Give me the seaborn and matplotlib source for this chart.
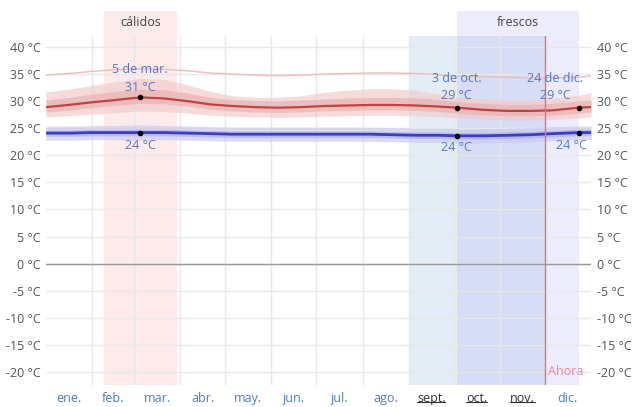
import pandas as pd
import matplotlib
matplotlib.use("Agg")
import matplotlib.pyplot as plt
import seaborn as sns

# day of year (0 = 1 Jan)
days = [0, 15, 31, 46, 63, 79, 95, 110, 125, 140, 156, 171, 186, 201, 217, 232, 248, 263, 275, 293, 309, 324, 339, 357, 365]

high = [28.9, 29.3, 29.8, 30.2, 30.7, 30.5, 30.0, 29.4, 29.1, 28.9, 28.8, 28.9, 29.1, 29.2, 29.3, 29.3, 29.2, 29.0, 28.8, 28.4, 28.2, 28.2, 28.3, 28.8, 28.9]
high_p90 = [31.7, 32.2, 32.9, 33.6, 34.2, 34.0, 33.0, 31.8, 31.0, 30.7, 30.7, 31.0, 31.6, 32.0, 32.3, 32.3, 32.0, 31.3, 30.7, 30.4, 30.2, 30.2, 30.5, 31.1, 31.6]
high_p75 = [30.2, 30.7, 31.3, 31.8, 32.2, 32.1, 31.5, 30.7, 30.3, 30.1, 30.0, 30.2, 30.4, 30.6, 30.7, 30.7, 30.6, 30.3, 29.9, 29.6, 29.4, 29.4, 29.6, 30.0, 30.2]
high_p25 = [28.0, 28.3, 28.8, 29.2, 29.6, 29.5, 29.1, 28.5, 28.2, 28.0, 27.9, 28.0, 28.2, 28.3, 28.4, 28.4, 28.3, 28.1, 27.8, 27.5, 27.3, 27.3, 27.4, 27.8, 28.0]
high_p10 = [27.1, 27.3, 27.6, 27.9, 28.2, 28.1, 27.8, 27.4, 27.2, 27.1, 27.0, 27.1, 27.2, 27.3, 27.4, 27.4, 27.3, 27.1, 26.9, 26.7, 26.5, 26.5, 26.6, 26.9, 27.1]
high_top = [34.8, 35.1, 35.5, 35.8, 36.0, 35.9, 35.6, 35.2, 35.0, 34.8, 34.7, 34.8, 35.0, 35.1, 35.2, 35.2, 35.1, 34.9, 34.6, 34.5, 34.4, 34.3, 34.3, 34.4, 34.7]

low = [24.1, 24.1, 24.2, 24.2, 24.2, 24.2, 24.1, 24.0, 23.9, 23.9, 23.9, 23.9, 23.9, 23.9, 23.9, 23.8, 23.7, 23.7, 23.6, 23.6, 23.7, 23.8, 24.0, 24.2, 24.2]
low_p90 = [25.4, 25.4, 25.5, 25.5, 25.6, 25.5, 25.4, 25.3, 25.2, 25.2, 25.2, 25.2, 25.2, 25.2, 25.2, 25.1, 25.0, 25.0, 24.9, 24.9, 25.0, 25.1, 25.3, 25.4, 25.4]
low_p75 = [24.7, 24.7, 24.8, 24.8, 24.8, 24.8, 24.7, 24.6, 24.5, 24.5, 24.5, 24.5, 24.5, 24.5, 24.5, 24.4, 24.3, 24.3, 24.2, 24.2, 24.3, 24.4, 24.6, 24.8, 24.8]
low_p25 = [23.5, 23.5, 23.6, 23.6, 23.6, 23.6, 23.5, 23.4, 23.3, 23.3, 23.3, 23.3, 23.3, 23.3, 23.3, 23.2, 23.1, 23.1, 23.0, 23.0, 23.1, 23.2, 23.4, 23.6, 23.6]
low_p10 = [22.8, 22.8, 22.9, 22.9, 22.8, 22.9, 22.8, 22.7, 22.6, 22.6, 22.6, 22.6, 22.6, 22.6, 22.6, 22.5, 22.4, 22.4, 22.3, 22.3, 22.4, 22.5, 22.7, 22.9, 22.9]

month_starts = [0, 31, 59, 90, 120, 151, 181, 212, 243, 273, 304, 334, 365]
month_labels = ["ene.", "feb.", "mar.", "abr.", "may.", "jun.", "jul.", "ago.", "sept.", "oct.", "nov.", "dic."]
underlined = ["sept.", "oct.", "nov."]
y_ticks = [40, 35, 30, 25, 20, 15, 10, 5, 0, -5, -10, -15, -20]

# seasons / highlights (day of year)
warm_season = (39, 88)
cool_season = (275, 357)
shade_period = (243, 334.5)
now_day = 334.5

# highlighted points: (day index in arrays, date label)
marks = [(4, "5 de mar."), (18, "3 de oct."), (23, "24 de dic.")]

df = pd.DataFrame({"day": days, "high": high, "low": low, "top": high_top})

sns.set_style("white")
plt.rcParams["font.family"] = ["Open Sans", "DejaVu Sans"]

fig = plt.figure(figsize=(6.34, 4.07), dpi=100)
ax = fig.add_axes([46 / 634, 1 - 385 / 407, 545 / 634, 349 / 407])

label_blue = "#4f78cc"
grey = "#555555"

# seasons bands
ext = (385 - 11) / 349
ax.axvspan(*warm_season, ymin=0, ymax=ext, color="#fdeaea", clip_on=False, zorder=0.1, lw=0)
ax.axvspan(*cool_season, ymin=0, ymax=ext, color="#ececfd", clip_on=False, zorder=0.1, lw=0)
ax.axvspan(*shade_period, color="#96b4dc", alpha=0.25, zorder=0.2, lw=0)
ax.text(sum(warm_season) / 2, 1 + (36 - 23) / 349, "cálidos", transform=ax.get_xaxis_transform(),
        ha="center", va="center", fontsize=9, color="#444444")
ax.text(sum(cool_season) / 2, 1 + (36 - 23) / 349, "frescos", transform=ax.get_xaxis_transform(),
        ha="center", va="center", fontsize=9, color="#444444")

# percentile bands
ax.fill_between(days, high_p10, high_p90, color="#f3c9c9", alpha=0.65, lw=0, zorder=2)
ax.fill_between(days, high_p25, high_p75, color="#e8a7a7", alpha=0.55, lw=0, zorder=2)
ax.fill_between(days, low_p10, low_p90, color="#c9c9f0", alpha=0.65, lw=0, zorder=2)
ax.fill_between(days, low_p25, low_p75, color="#a3a3e3", alpha=0.55, lw=0, zorder=2)

sns.lineplot(data=df, x="day", y="top", ax=ax, color="#ecbcbc", lw=1, zorder=3)
sns.lineplot(data=df, x="day", y="high", ax=ax, color="#c0433f", lw=1.6, zorder=3)
sns.lineplot(data=df, x="day", y="low", ax=ax, color="#3d3dc4", lw=2.0, zorder=3)

# highlighted points
for i, lab in marks:
    d, hv, lv = days[i], high[i], low[i]
    ax.scatter([d, d], [hv, lv], s=9, color="black", zorder=5)
    xt = d if d < 340 else d - 16
    xb = d if d < 340 else d - 5
    ax.text(xt, 35.8 if i == 4 else 34.1, lab, ha="center", va="center", fontsize=9, color=label_blue, zorder=6)
    ax.text(xt, 32.6 if i == 4 else 31.0, f"{round(hv)} °C", ha="center", va="center", fontsize=9,
            color=label_blue, zorder=6)
    ax.text(xb, 21.8 if i != 18 else 21.4, f"{round(lv)} °C", ha="center", va="center", fontsize=9,
            color=label_blue, zorder=6)

# now line
ax.axvline(now_day, color="#ee6e78", lw=1, zorder=4)
ax.text(now_day + 1.5, -20, "Ahora", ha="left", va="center", fontsize=9, color="#f08890", zorder=6)

ax.axhline(0, color="#999999", lw=1, zorder=1)

ax.set_xlim(0, 365)
ax.set_ylim(-22.4, 42.03)
centers = [(a + b) / 2 for a, b in zip(month_starts[:-1], month_starts[1:])]
ax.set_xticks(month_starts[1:-1])
ax.set_xticklabels([])
ax.set_xticks(centers, minor=True)
ax.set_xticklabels(month_labels, minor=True, fontsize=9)
for t, m in zip(ax.get_xticklabels(minor=True), month_labels):
    t.set_color("#333333" if m in underlined else label_blue)
ax.tick_params(axis="x", which="both", length=0, pad=5)

# underline for some month labels
uw = {"sept.": 9.5, "oct.": 7, "nov.": 8.5}
xt_tr = ax.get_xaxis_transform()
for c, m in zip(centers, month_labels):
    if m in underlined:
        ax.plot([c - uw[m], c + uw[m]], [-0.05, -0.05], transform=xt_tr, color="#333333",
                lw=0.8, clip_on=False)

ax.set_yticks(y_ticks)
ax.set_yticklabels([f"{v} °C" for v in y_ticks], fontsize=9, color=grey)
ax.tick_params(axis="y", length=0, labelright=True, pad=4)

ax.grid(True, which="major", color="#e8e8e8", lw=1)
ax.set_axisbelow(True)
ax.set_xlabel("")
ax.set_ylabel("")
sns.despine(ax=ax, left=True, bottom=True)

fig.savefig("out.png", dpi=100)
